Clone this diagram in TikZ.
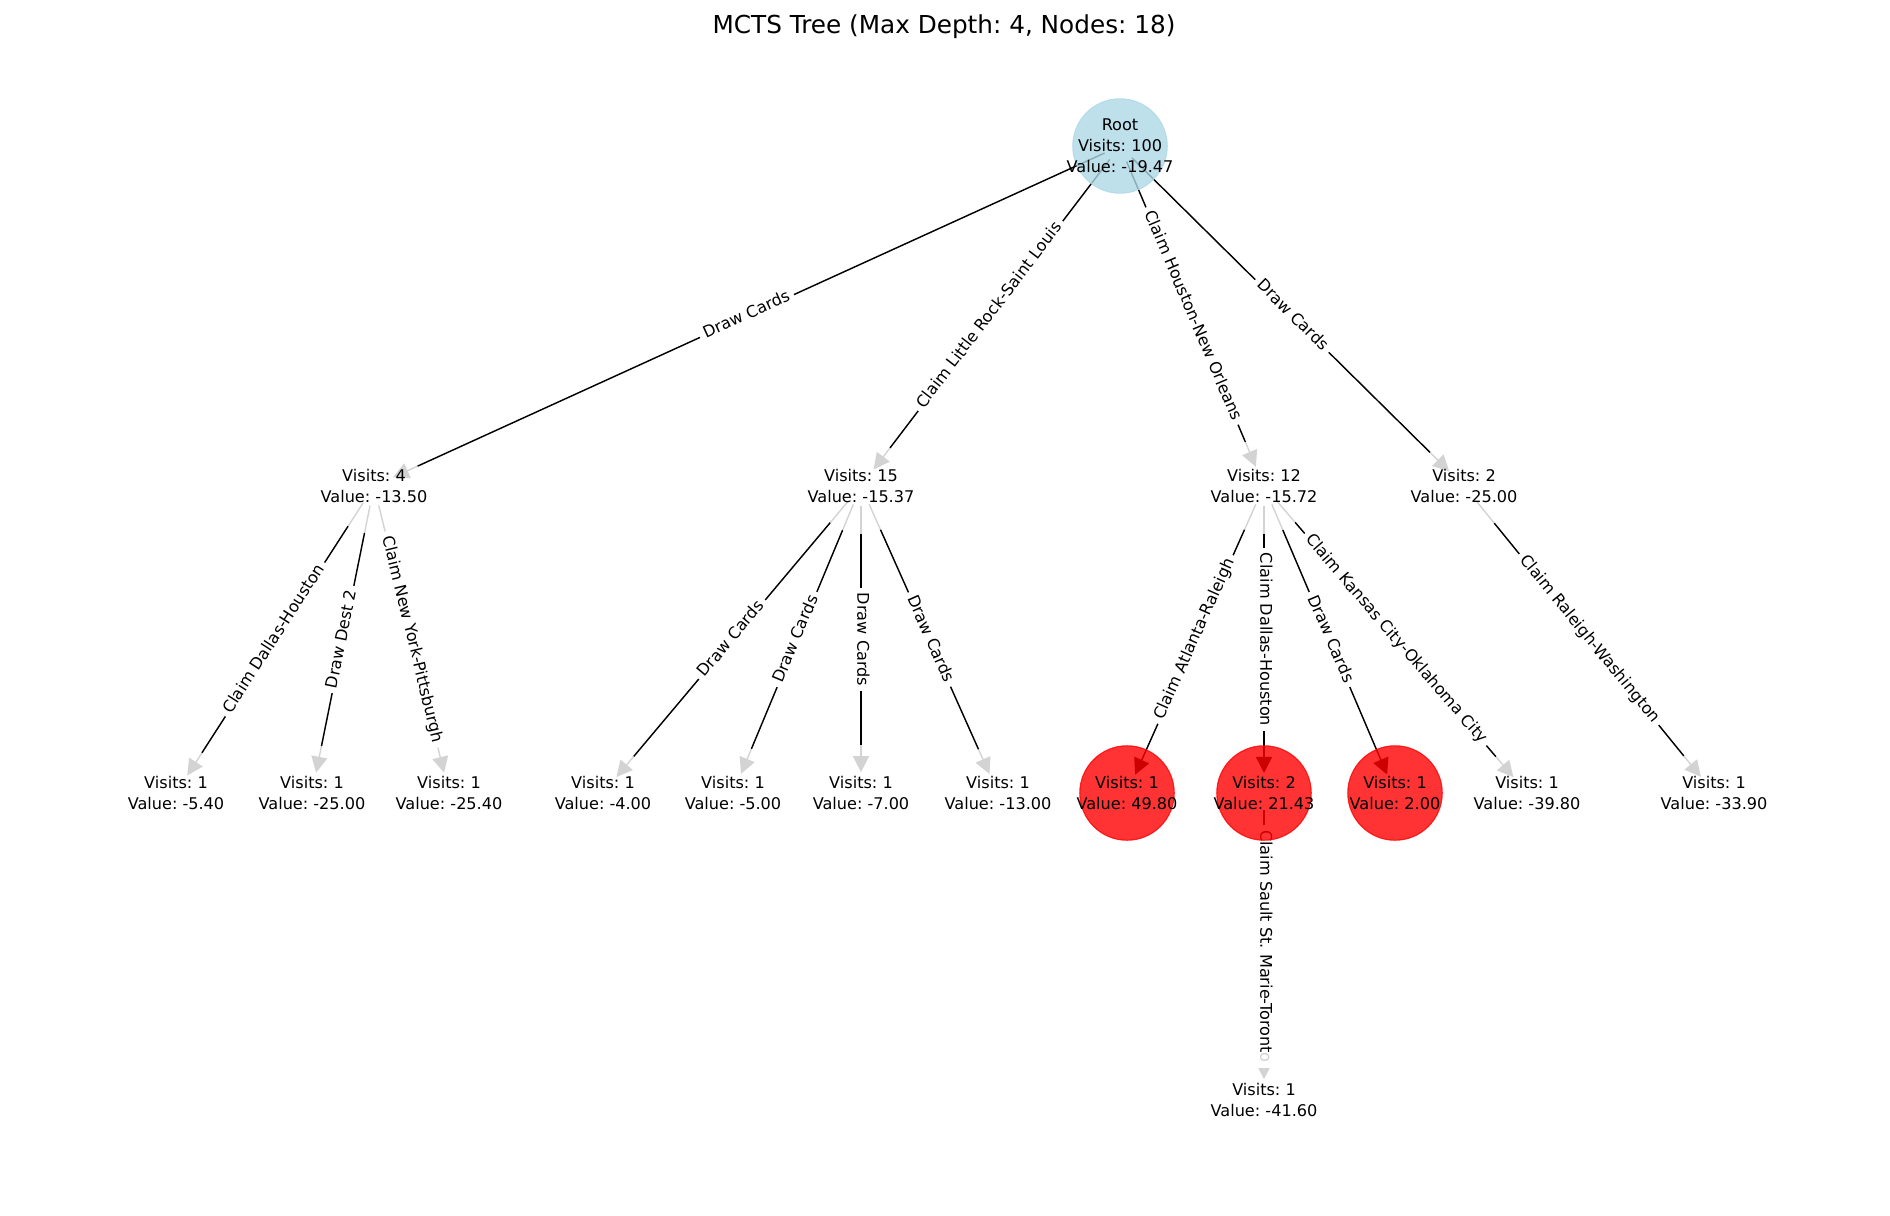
\documentclass[tikz,border=0pt]{standalone}
\usepackage{fontspec}
\setmainfont{DejaVu Sans}
\usetikzlibrary{arrows.meta}
\definecolor{lightblue}{HTML}{ADD8E6}
\definecolor{edgegray}{HTML}{D3D3D3}
\pgfdeclarelayer{edges}
\pgfsetlayers{edges,main}
\frenchspacing

\begin{document}
\begin{tikzpicture}[x=0.72pt, y=-0.72pt]
	\tikzset{
		vnode/.style={align=center, inner sep=0pt, text=black, text opacity=1, font=\fontsize{11.6}{15.1}\selectfont},
		rootnode/.style={circle, minimum size=68pt, inner sep=0pt, fill=lightblue, fill opacity=0.8, draw=lightblue, draw opacity=0.8, line width=0.8pt},
		bestnode/.style={circle, minimum size=68pt, inner sep=0pt, fill=red, fill opacity=0.8, draw=red, draw opacity=0.8, line width=0.8pt},
		grayedge/.style={draw=edgegray, line width=1pt, -{Triangle[length=11.5pt, width=11.5pt]}, shorten <=14.4pt, shorten >=15pt},
		blackedge/.style={draw=black, line width=1pt, shorten <=34.5pt, shorten >=34.5pt},
		bestedge/.style={blackedge, -{Triangle[length=11.5pt, width=11.5pt]}, shorten >=14.4pt},
		elabel/.style={midway, sloped, fill=white, inner sep=3.5pt, font=\fontsize{11.6}{14}\selectfont, text height=0.75em, text depth=0.22em},
	}
	\useasboundingbox (0,0) rectangle (1890,1216);

	\node[font=\fontsize{17.8}{21}\selectfont, anchor=base] (title) at (944,34) {MCTS Tree (Max Depth: 4, Nodes: 18)};

	\node[rootnode, label={[vnode]center:{Root\\Visits: 100\\Value: -19.47}}] (root) at (1120,146) {};

	\node[vnode] (a1) at (374,486) {Visits: 4\\Value: -13.50};
	\node[vnode] (b1) at (861,486) {Visits: 15\\Value: -15.37};
	\node[vnode] (c1) at (1264,486) {Visits: 12\\Value: -15.72};
	\node[vnode] (d1) at (1464,486) {Visits: 2\\Value: -25.00};

	\node[vnode] (a2) at (176,793) {Visits: 1\\Value: -5.40};
	\node[vnode] (a3) at (312,793) {Visits: 1\\Value: -25.00};
	\node[vnode] (a4) at (449,793) {Visits: 1\\Value: -25.40};
	\node[vnode] (b2) at (603,793) {Visits: 1\\Value: -4.00};
	\node[vnode] (b3) at (733,793) {Visits: 1\\Value: -5.00};
	\node[vnode] (b4) at (861,793) {Visits: 1\\Value: -7.00};
	\node[vnode] (b5) at (998,793) {Visits: 1\\Value: -13.00};
	\node[bestnode, label={[vnode]center:{Visits: 1\\Value: 49.80}}] (c2) at (1127,793) {};
	\node[bestnode, label={[vnode]center:{Visits: 2\\Value: 21.43}}] (c3) at (1264,793) {};
	\node[bestnode, label={[vnode]center:{Visits: 1\\Value: 2.00}}] (c4) at (1395,793) {};
	\node[vnode] (c5) at (1527,793) {Visits: 1\\Value: -39.80};
	\node[vnode] (d2) at (1714,793) {Visits: 1\\Value: -33.90};

	\node[vnode] (e1) at (1264,1100) {Visits: 1\\Value: -41.60};

	\begin{pgfonlayer}{edges}
		\draw[grayedge] (root.center) -- (a1.center);
		\draw[grayedge] (root.center) -- (b1.center);
		\draw[grayedge] (root.center) -- (c1.center);
		\draw[grayedge] (root.center) -- (d1.center);
		\draw[grayedge] (a1.center) -- (a2.center);
		\draw[grayedge] (a1.center) -- (a3.center);
		\draw[grayedge] (a1.center) -- (a4.center);
		\draw[grayedge] (b1.center) -- (b2.center);
		\draw[grayedge] (b1.center) -- (b3.center);
		\draw[grayedge] (b1.center) -- (b4.center);
		\draw[grayedge] (b1.center) -- (b5.center);
		\draw[grayedge] (c1.center) -- (c2.center);
		\draw[grayedge] (c1.center) -- (c3.center);
		\draw[grayedge] (c1.center) -- (c4.center);
		\draw[grayedge] (c1.center) -- (c5.center);
		\draw[grayedge] (d1.center) -- (d2.center);
		\draw[grayedge] (c3.center) -- (e1.center);

		\draw[blackedge, shorten <=12.2pt] (root.center) -- (a1.center) node[elabel] {Draw Cards};
		\draw[blackedge, shorten <=12.2pt] (root.center) -- (b1.center) node[elabel] {Claim Little Rock-Saint Louis};
		\draw[blackedge, shorten <=12.2pt] (root.center) -- (c1.center) node[elabel] {Claim Houston-New Orleans};
		\draw[blackedge, shorten <=12.2pt] (root.center) -- (d1.center) node[elabel] {Draw Cards};
		\draw[blackedge] (a1.center) -- (a2.center) node[elabel] {Claim Dallas-Houston};
		\draw[blackedge] (a1.center) -- (a3.center) node[elabel] {Draw Dest 2};
		\draw[blackedge] (a1.center) -- (a4.center) node[elabel] {Claim New York-Pittsburgh};
		\draw[blackedge] (b1.center) -- (b2.center) node[elabel] {Draw Cards};
		\draw[blackedge] (b1.center) -- (b3.center) node[elabel] {Draw Cards};
		\draw[blackedge] (b1.center) -- (b4.center) node[elabel] {Draw Cards};
		\draw[blackedge] (b1.center) -- (b5.center) node[elabel] {Draw Cards};
		\draw[bestedge] (c1.center) -- (c2.center) node[elabel] {Claim Atlanta-Raleigh};
		\draw[bestedge] (c1.center) -- (c3.center) node[elabel] {Claim Dallas-Houston};
		\draw[bestedge] (c1.center) -- (c4.center) node[elabel] {Draw Cards};
		\draw[blackedge] (c1.center) -- (c5.center) node[elabel] {Claim Kansas City-Oklahoma City};
		\draw[blackedge] (d1.center) -- (d2.center) node[elabel] {Claim Raleigh-Washington};
		\draw[blackedge, shorten <=12.2pt] (c3.center) -- (e1.center) node[elabel] {Claim Sault St. Marie-Toront{\color{edgegray}o}};
	\end{pgfonlayer}
\end{tikzpicture}
\end{document}
